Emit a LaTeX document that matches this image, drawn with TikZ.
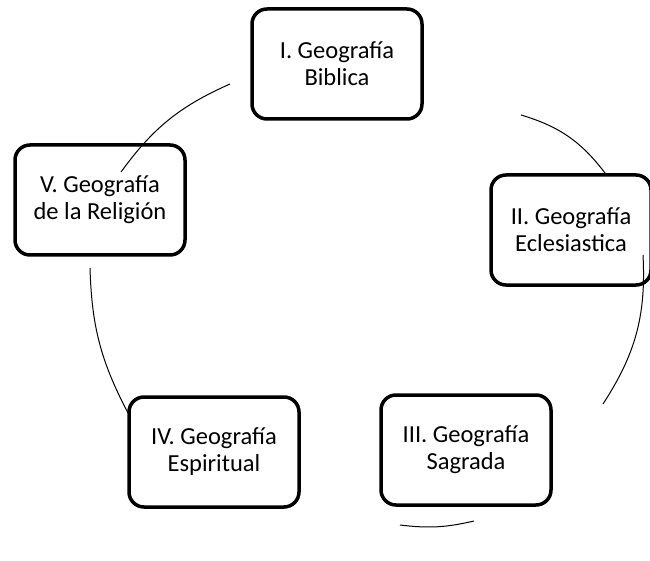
\documentclass[tikz,border=0pt]{standalone}
\usepackage{fontspec}
\setmainfont{Carlito}
\usetikzlibrary{positioning}

\begin{document}
\begin{tikzpicture} [x=1pt,y=-1pt,
			every node/.style={font=\fontsize{24.5}{27}\selectfont,align=center},
			geo/.style={draw,rectangle,line width=3.5pt,rounded corners=15pt,minimum width=170pt,minimum height=110pt,inner sep=0pt},
			ring/.style={line width=1pt}
		]
			\useasboundingbox (0,0) rectangle (650,561);
			\node at (337,64) [geo] (nodeBiblica) {I. Geografía\\Biblica};
			\node at (571,230) [geo,minimum width=160pt] (nodeEclesiastica) {II. Geografía\\Eclesiastica};
			\node at (466,450) [geo] (nodeSagrada) {III. Geografía\\Sagrada};
			\node at (214,452) [geo] (nodeEspiritual) {IV. Geografía\\Espiritual};
			\node at (100,200) [geo] (nodeReligion) {V. Geografía\\de la Religión};
			% ends of the cycle arcs
			\coordinate (ringA1) at (121,172);
			\coordinate (ringA2) at (230,84);
			\coordinate (ringB1) at (521,115);
			\coordinate (ringB2) at (605,173);
			\coordinate (ringC1) at (643,255);
			\coordinate (ringC2) at (603,404);
			\coordinate (ringD1) at (474,521);
			\coordinate (ringD2) at (400,525);
			\coordinate (ringE1) at (128,413);
			\coordinate (ringE2) at (90,268);
			\path[ring] (ringA1) edge[bend left=15] (ringA2);
			\path[ring] (ringB1) edge[bend left=18] (ringB2);
			\path[ring] (ringC1) edge[bend left=18] (ringC2);
			\path[ring] (ringD1) edge[bend left=10] (ringD2);
			\path[ring] (ringE1) edge[bend left=13] (ringE2);
		\end{tikzpicture}
\end{document}
